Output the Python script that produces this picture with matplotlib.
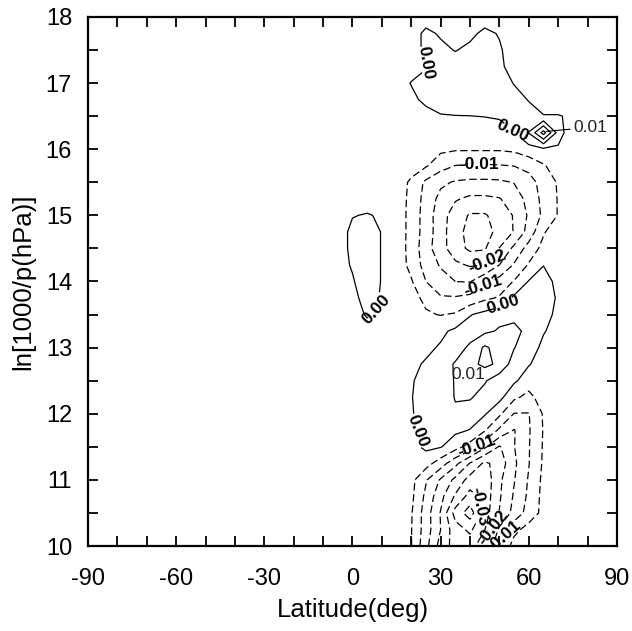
import numpy as np
import matplotlib
matplotlib.use("Agg")
import matplotlib.pyplot as plt
from matplotlib.ticker import MultipleLocator

plt.rcParams.update({
    "font.family": ["Liberation Sans", "DejaVu Sans"],
    "lines.scale_dashes": False,
    "axes.unicode_minus": False,
})

# grid nodes of the field (latitude in deg, ln[1000/p] from top to bottom)
lat_nodes = [-10, -5, 0, 5, 10, 15, 20, 25, 30, 35, 40, 45, 50, 55, 60, 65, 70, 75, 80]
lev_nodes = [18.0, 17.75, 17.5, 17.25, 17.0, 16.75, 16.5, 16.25, 16.0, 15.75, 15.5, 15.25,
             15.0, 14.75, 14.5, 14.25, 14.0, 13.75, 13.5, 13.25, 13.0, 12.75, 12.5, 12.25,
             12.0, 11.75, 11.5, 11.25, 11.0, 10.75, 10.5, 10.25, 10.0]

# field values, in units of 0.001
field_milli = [
    [-2, -2, -2, -2, -2, -2, -2, -2, -2, -2, -2, -2, -2, -2, -2, -2, -2, -2, -2],
    [-2, -2, -2, -2, -2, -2, -2, 1, -0.5, -2, -1, 1, -0.3, -2, -2, -2, -2, -2, -2],
    [-2, -2, -2, -2, -2, -2, -2, 1, 1, -0.2, 1, 2, 0.5, -2, -2, -2, -2, -2, -2],
    [-2, -2, -2, -2, -2, -2, -2, -0.3, 2, 2, 2, 2, 1, -2, -2, -2, -2, -2, -2],
    [-2, -2, -2, -2, -2, -2, 0.2, 1.5, 2.5, 3, 3, 3, 2, -0.2, -2, -2, -2, -2, -2],
    [-2, -2, -2, -2, -2, -2, -1, 1, 2, 2, 2, 2, 2, 1.5, -0.2, -2, -2, -2, -2],
    [-2, -2, -2, -2, -2, -2, -2, -1.5, -0.3, -0.1, -0.05, 0.1, 0.5, 1, 1.5, 0.2, 0.2, -0.5, -2],
    [-2, -2, -2, -2, -2, -2, -2, -2, -2, -2, -2, -2, -2, -0.1, 5.2, 17, 3, -4.5, -2],
    [-2, -2, -2, -2, -2, -2, -2, -2.5, -4, -4.5, -4.5, -4.5, -4.5, -4, -2, -1, -1, -2, -2],
    [-2, -2, -2, -2, -2, -2, -2.5, -4.5, -8, -10.1, -10.5, -10.5, -10.3, -9.9, -8.5, -5.5, -2.5, -2, -2],
    [-2, -2, -2, -2, -2, -2, -6, -11, -14, -15.5, -16, -16, -15.8, -14.8, -12, -8, -4.5, -2, -2],
    [-2, -2, -2, -2, -2, -2, -6.5, -11.8, -16.5, -19.5, -21, -21, -20.3, -17.5, -13.5, -8.5, -4.7, -2, -2],
    [-2, -2, -0.2, 0.3, -0.5, -2, -6.7, -12.3, -17.8, -22.5, -25.5, -25.5, -23, -19.6, -14.3, -8.9, -4.7, -2, -2],
    [-2, -2, 1, 3, -0.3, -2, -6.7, -12.3, -17.8, -23.3, -26.5, -26.5, -23.8, -19.7, -13, -5.5, -2, -2, -2],
    [-2, -2, 1, 3, -0.3, -2, -6.8, -13, -18, -22.8, -26, -25.5, -19.8, -13.8, -8, -3.5, -2, -2, -2],
    [-2, -2, 0.5, 3, -0.3, -2, -6.5, -12, -15.5, -19, -20.5, -20, -15, -9.5, -4.5, -0.1, -2, -2, -2],
    [-2, -2, -0.5, 3, -0.3, -2, -4.5, -10, -13, -15, -15.3, -11, -8, -4.7, 0.3, 1.5, -1, -2, -2],
    [-2, -2, -1.5, 2, -0.5, -2, -3.5, -6, -9.5, -9.5, -8.5, -6, -4.5, 1, 2, 2, -0.5, -2, -2],
    [-2, -2, -2, 0.5, -0.5, -2, -2.5, -4.5, -5.2, -4.5, -0.3, 1.5, 3.5, 4, 2.5, 1.5, -1, -2, -2],
    [-2, -2, -2, -2, -2, -2, -2, -2.5, -1, 1, 2.5, 4, 5.5, 6, 4, 0.3, -1.5, -2, -2],
    [-2, -2, -2, -2, -2, -2, -2, -1, 0.5, 2.5, 6, 10.8, 8, 5.2, 2, -1, -2, -2, -2],
    [-2, -2, -2, -2, -2, -2, -1, 0.5, 2.5, 5.5, 8.5, 11.2, 9, 2.5, 0.3, -2, -2, -2, -2],
    [-2, -2, -2, -2, -2, -2, -0.5, 2, 3.5, 5.2, 6.5, 5.5, 2, 0.8, -2.5, -2, -2, -2, -2],
    [-2, -2, -2, -2, -2, -2, -0.3, 3, 3, 5.2, 5.5, 3, 1.5, -4, -6.5, -2.5, -2, -2, -2],
    [-2, -2, -2, -2, -2, -2, -0.5, 2.5, 3.5, 4.5, 2.5, 0.5, -4, -10.2, -10.2, -4.5, -2, -2, -2],
    [-2, -2, -2, -2, -2, -2, -1, 1.5, 2, 1, -0.2, -4.5, -11, -15.3, -10.5, -4.7, -2, -2, -2],
    [-2, -2, -2, -2, -2, -2, -1.5, 1, 0.3, -3, -7, -14, -20.5, -15.2, -10.3, -4.5, -2, -2, -2],
    [-2, -2, -2, -2, -2, -2, -2, -3, -7.5, -13.5, -20.3, -26, -23, -16, -10.2, -4.3, -2, -2, -2],
    [-2, -2, -2, -2, -2, -2, -3.5, -9.5, -15.6, -21.3, -27, -28.5, -21, -15.3, -9.5, -3.8, -2, -2, -2],
    [-2, -2, -2, -2, -2, -2, -3.8, -11.2, -18.5, -25.7, -32, -28, -20.6, -14.4, -9, -3.5, -2, -2, -2],
    [-2, -2, -2, -2, -2, -2, -4.5, -12.5, -20.3, -32, -37.5, -27.5, -19.8, -13.3, -8, -3.5, -2, -2, -2],
    [-2, -2, -2, -2, -2, -2, -4.8, -12.5, -20, -28, -31, -25.2, -14, -6.5, -3, -2, -2, -2, -2],
    [-2, -2, -2, -2, -2, -2, -4.8, -13.5, -22, -27, -27.5, -21, -10, -3, -2, -2, -2, -2, -2],
]

# contour levels in units of 0.001; the labelled ones are drawn separately
plain_levels_milli = [-35, -25, -15, -5, 5, 10, 15]
labelled_levels_milli = [-30, -20, -10, 0]

# where the contour labels sit (lat, lev)
label_spots = [
    (25.5, 17.35), (54.5, 16.25), (51.0, 13.72), (8.5, 13.55), (22.5, 11.75),
    (43.0, 15.78), (44.5, 13.95), (42.0, 11.55), (51.5, 10.15),
    (46.0, 14.3), (47.5, 10.3),
    (43.5, 10.6),
]

dash = (0, (5.4, 2.6))

fig = plt.figure(figsize=(6.32, 6.31), dpi=100)
ax = fig.add_axes([0.1392, 0.1347, 0.837, 0.8384])

lev = np.array(lev_nodes)[::-1]
z = np.array(field_milli)[::-1] * 1e-3

plain = np.array(plain_levels_milli) * 1e-3
ax.contour(lat_nodes, lev, z, levels=plain, colors="k", linewidths=0.9,
           linestyles=["solid" if v >= 0 else dash for v in plain_levels_milli])

labelled = np.array(labelled_levels_milli) * 1e-3
cs = ax.contour(lat_nodes, lev, z, levels=labelled, colors="k", linewidths=0.9,
                linestyles=["solid" if v >= 0 else dash for v in labelled_levels_milli])
texts = ax.clabel(cs, manual=label_spots, inline=True, fmt="%.2f",
                  fontsize=12.5, inline_spacing=2)
for t in texts:
    t.set_fontweight("bold")

# plain labels for the 0.01 maxima
ax.annotate("0.01", xy=(66, 16.27), xytext=(75, 16.33), fontsize=12.5,
            va="center", ha="left", color="#222222",
            arrowprops=dict(arrowstyle="-", lw=0.8, color="k", shrinkA=0, shrinkB=0))
ax.text(39.3, 12.6, "0.01", fontsize=12.5, ha="center", va="center", color="#222222")

ax.set_xlim(-90, 90)
ax.set_ylim(10, 18)
ax.xaxis.set_major_locator(MultipleLocator(30))
ax.xaxis.set_minor_locator(MultipleLocator(10))
ax.yaxis.set_major_locator(MultipleLocator(1))
ax.yaxis.set_minor_locator(MultipleLocator(0.5))
ax.tick_params(which="both", direction="in", top=True, right=True,
               length=7, width=1.3, color="k")
ax.tick_params(axis="x", labelsize=17, pad=15.5)
ax.tick_params(axis="y", labelsize=17, pad=11.5)
for s in ax.spines.values():
    s.set_linewidth(1.6)

ax.set_xlabel("Latitude(deg)", fontsize=18.5)
ax.set_ylabel("ln[1000/p(hPa)]", fontsize=18.5)
ax.xaxis.label.set_va("center")
ax.yaxis.label.set_va("center")
ax.xaxis.set_label_coords(0.5, -0.121)
ax.yaxis.set_label_coords(-0.123, 0.5)

fig.savefig("out.png", dpi=100)
